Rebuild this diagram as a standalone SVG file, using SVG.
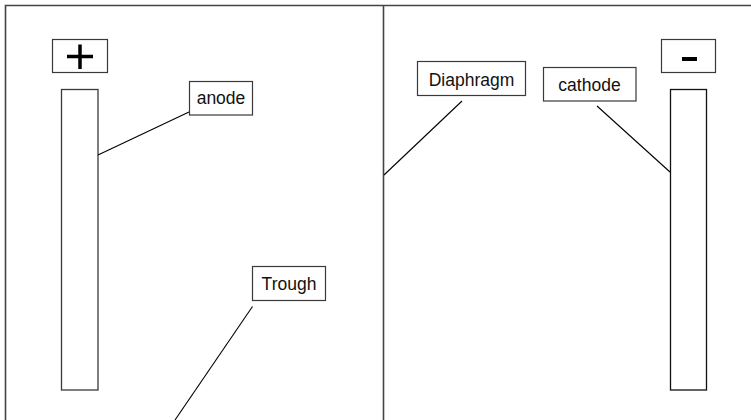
<svg xmlns="http://www.w3.org/2000/svg" width="751" height="420" viewBox="0 0 751 420">
<style>
.box{fill:#fff;stroke:#3a3a3a;stroke-width:1.2}
.rod{fill:#fff;stroke:#3a3a3a;stroke-width:1.3}
.ln{stroke:#000;stroke-width:1.1;fill:none}
.lbl{font-family:"Liberation Sans",Arial,sans-serif;font-size:17.5px;fill:#111;text-anchor:middle}
</style>
<rect width="751" height="420" fill="#fff"/>
<g id="trough-outline">
<path d="M5.5 420 V5.5 H751" class="ln" stroke="#444" style="stroke:#444;stroke-width:1.6"/>
</g>
<g id="diaphragm-wall">
<line x1="383.5" y1="5" x2="383.5" y2="420" style="stroke:#444;stroke-width:1.6"/>
</g>
<g id="plus">
<rect class="box" x="52.5" y="39.5" width="55" height="33"/>
<path d="M67 56.5 H93 M80 44.5 V69" style="stroke:#000;stroke-width:3.5"/>
</g>
<g id="minus">
<rect class="box" x="661.5" y="39.5" width="54" height="33"/>
<rect x="682" y="57" width="15" height="4" fill="#000"/>
</g>
<g id="anode-rod">
<rect class="rod" x="61.5" y="89.5" width="36.5" height="300.5"/>
</g>
<g id="cathode-rod">
<rect class="rod" x="670.5" y="89.5" width="36" height="300.5" style="stroke:#111"/>
</g>
<g id="connectors">
<line class="ln" x1="98" y1="155" x2="189" y2="112"/>
<line class="ln" x1="462" y1="101" x2="384" y2="175"/>
<line class="ln" x1="597" y1="106" x2="670" y2="172"/>
<line class="ln" x1="252.5" y1="306.5" x2="175" y2="420"/>
</g>
<g id="anode-label">
<rect class="box" x="189.5" y="81.5" width="63" height="33.5"/>
<text class="lbl" x="221" y="104">anode</text>
</g>
<g id="diaphragm-label">
<rect class="box" x="417.5" y="61.5" width="108" height="34"/>
<text class="lbl" x="471.5" y="85.5">Diaphragm</text>
</g>
<g id="cathode-label">
<rect class="box" x="543.5" y="67.5" width="92.5" height="33.5"/>
<text class="lbl" x="589.5" y="90.5">cathode</text>
</g>
<g id="trough-label">
<rect class="box" x="252.5" y="266.5" width="73" height="34"/>
<text class="lbl" x="289" y="290">Trough</text>
</g>
</svg>
